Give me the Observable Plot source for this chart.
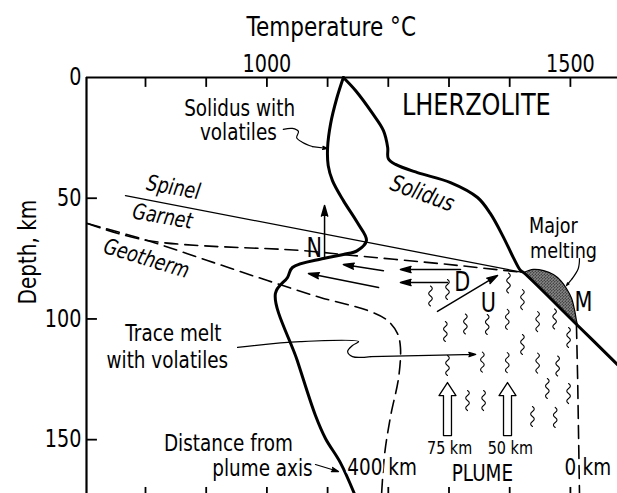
<!DOCTYPE html>
<html><head><meta charset="utf-8">
<script src="https://cdn.jsdelivr.net/npm/d3@7"></script>
<script src="https://cdn.jsdelivr.net/npm/@observablehq/plot@0.6"></script>
<style>
body{margin:0;background:#fff;}
#chart svg{display:block;}
</style></head><body><div id="chart"></div>
<script>
// ---- axes ----
const xDomain = [702.8, 1577.6];          // temperature, °C
const yDomain = [0, 172.3];               // depth, km
const xTicks = [800, 900, 1000, 1100, 1200, 1300, 1400, 1500];
const xLabelTicks = [1000, 1500];
const yLabelTicks = [0, 50, 100, 150];
const yInnerTicks = [50, 100, 150];

// ---- curves [T °C, depth km] ----
const solidusVolatiles = [[1126,0],[1115,8.7],[1105,19.1],[1100,29.0],[1101,36.5],[1108,42.7],[1126,51.0],[1149,60.1],[1164,67.5],[1149,71.7],[1126,73.3],[1093,75.0],[1042,78.7],[1034,82.8],[1014,89.5],[1050,117.2],[1080,140.0],[1096.5,149.5],[1121,159.5],[1144,172.3]];
const solidusDry = [[1126,0],[1146,5.4],[1174,14.9],[1192,22.0],[1199,29.0],[1200,33.6],[1212,36.0],[1248,39.4],[1302.5,43.5],[1347,49.7],[1368,56.3],[1390,66.3],[1406,74.6],[1418,80.0],[1423,80.8],[1512,102.7],[1577.6,118.9]];
const spinelGarnet = [[767,48.9],[1423,80.8]];
const geothermUpper = [[704.5,60.5],[803,67.5],[1058.6,71.7],[1141,73.7],[1286,77.1],[1347,78.7],[1423,80.8]];
const geotherm400 = [[704.5,60.5],[803,67.5],[902,75.8],[1001,84.1],[1088,91.1],[1166,96.5],[1199,100.7],[1215,106.0],[1220,111.8],[1217,124.3],[1204,140.0],[1194,155.8],[1189,172.3]];
const geotherm0 = [[1510,102.7],[1512,125.5],[1515,172.3]];
const majorMelting = [[1423,80.8],[1439,79.5],[1456,80.0],[1472,81.6],[1484,84.1],[1493.5,87.4],[1502,91.5],[1507,96.5],[1510,100.7],[1512,102.7]];

// ---- arrows [T1, D1, T2, D2] ----
const flowArrows = [[1095,75.0,1095,53.0],[1319,79.5,1220,79.5],[1297.5,84.9,1220,84.9],[1192,80.0,1126,77.5],[1184,87.0,1068.5,81.2],[1281,96.9,1380,82.0]];
const leaderVolatiles = [[1027,21.5],[1042,21.1],[1052,22.4],[1049,24.9],[1059,26.9],[1075,28.6]];
const leaderTrace = [[951.6,111.8],[1055,109.4],[1151,109.4],[1141,111.0],[1133,113.5],[1141,115.6],[1171,115.6]];
const leaderMelting = [[1515,75.0],[1513,79.1],[1503,83.3]];
const leaderHeads = [[1075,28.6,1100,29.4],[1171,115.6,1344,114.7],[1503,83.3,1493.5,86.2],[1080,160.3,1118,163.2]];

// ---- plume upwelling arrows (T, depth of base) ----
const plumeArrows = [[1297.5,148.3],[1396.4,148.3]];

// ---- trace-melt squiggles (T, depth) ----
const squiggles = [[1269.5,90.5],[1297.5,87.8],[1398,85.1],[1421,92.0],[1294,105.2],[1327,102.1],[1363,102.3],[1396,100.2],[1446,101.1],[1474,100.0],[1421,110.6],[1497,107.7],[1297.5,119.3],[1355,117.9],[1396,118.1],[1446,118.3],[1479,119.5],[1462,128.8],[1497,130.9],[1330.5,133.8],[1357,133.8],[1437.5,140.4],[1475,140.8]];

// ---- annotations ----
const annotations = [
  {id:"title", text:"Temperature °C", T:1106, D:-20.7},
  {id:"ylab", text:"Depth, km", T:605.6, D:72.3},
  {id:"lherz", text:"LHERZOLITE", T:1345, D:11.6},
  {id:"sv1", text:"Solidus with", T:955, D:12.8},
  {id:"sv2", text:"volatiles", T:953, D:22.8},
  {id:"spinel", text:"Spinel", T:846, D:45.6},
  {id:"garnet", text:"Garnet", T:828, D:57.6},
  {id:"geotherm", text:"Geotherm", T:801.6, D:75.0},
  {id:"solidus", text:"Solidus", T:1256, D:48.1},
  {id:"N", text:"N", T:1078, D:70.8},
  {id:"D", text:"D", T:1322, D:84.9},
  {id:"U", text:"U", T:1365, D:93.6},
  {id:"M", text:"M", T:1521.6, D:93.2},
  {id:"major", text:"Major", T:1472, D:61.3},
  {id:"melting", text:"melting", T:1488.6, D:71.7},
  {id:"tm1", text:"Trace melt", T:846, D:106.0},
  {id:"tm2", text:"with volatiles", T:836, D:117.2},
  {id:"dist1", text:"Distance from", T:936.7, D:151.6},
  {id:"dist2", text:"plume axis", T:992.7, D:162.0},
  {id:"d400", text:"400", T:1190.4, D:161.6},
  {id:"km400", text:"km", T:1200, D:161.6},
  {id:"d75", text:"75 km", T:1301, D:153.7},
  {id:"d50", text:"50 km", T:1401, D:153.7},
  {id:"plume", text:"PLUME", T:1355, D:164.0},
  {id:"d0", text:"0", T:1500, D:161.6},
  {id:"km0", text:"km", T:1520, D:161.6}
];
const ann = (...ids) => annotations.filter(a => ids.includes(a.id));

const FONT = "'DejaVu Sans',sans-serif";
const P = d => d[0], Q = d => d[1];
const fmt = d => String(d);

const squiggleShape = {
  draw(ctx, l) {
    const n = 4, h = l / n;
    ctx.moveTo(0, 0);
    for (let k = 0; k < n; k++) {
      const s = k % 2 ? 2.4 : -2.4;
      ctx.bezierCurveTo(s, -k*h - h*0.35, s, -k*h - h*0.65, 0, -(k+1)*h);
    }
  }
};
const blockArrow = {
  draw(ctx, l) {
    const hw = 4, ww = 8.5, hl = 13;
    ctx.moveTo(-hw, 0); ctx.lineTo(-hw, -(l-hl)); ctx.lineTo(-ww, -(l-hl));
    ctx.lineTo(0, -l); ctx.lineTo(ww, -(l-hl)); ctx.lineTo(hw, -(l-hl));
    ctx.lineTo(hw, 0); ctx.closePath();
  }
};

const T = {x: "T", y: "D", text: "text"};

const chart = Plot.plot({
  width: 617, height: 493,
  marginLeft: 86, marginRight: 0, marginTop: 77, marginBottom: 0,
  x: {domain: xDomain, axis: null},
  y: {domain: yDomain, reverse: true, axis: null},
  style: {fontFamily: FONT, background: "white", color: "black", overflow: "visible"},
  marks: [
    // frame & ticks
    Plot.ruleY([0], {stroke: "black", strokeWidth: 2.2}),
    Plot.ruleX([xDomain[0]], {stroke: "black", strokeWidth: 2.2}),
    Plot.ruleX(xTicks, {y1: 0, y2: 4.1, stroke: "black", strokeWidth: 1.8}),
    Plot.ruleX(xTicks, {y1: 169.8, y2: yDomain[1], stroke: "black", strokeWidth: 1.8}),
    Plot.ruleY(yInnerTicks, {x1: xDomain[0], x2: xDomain[0] + 18, stroke: "black", strokeWidth: 1.8}),
    Plot.axisX(xLabelTicks, {anchor: "top", tickSize: 0, tickPadding: 6, fontSize: 24, label: null, tickFormat: fmt, fontFamily: FONT}),
    Plot.axisY(yLabelTicks, {anchor: "left", tickSize: 0, tickPadding: 5, fontSize: 24, label: null, tickFormat: fmt, fontFamily: FONT}),

    // major melting lens
    Plot.line(majorMelting, {x: P, y: Q, fill: "url(#dots)", stroke: "black", strokeWidth: 1.2, curve: "catmull-rom"}),

    // curves
    Plot.line(spinelGarnet, {x: P, y: Q, stroke: "black", strokeWidth: 1.3}),
    Plot.line(geothermUpper, {x: P, y: Q, stroke: "black", strokeWidth: 1.6, strokeDasharray: "13,7", curve: "catmull-rom"}),
    Plot.line(geotherm400, {x: P, y: Q, stroke: "black", strokeWidth: 1.6, strokeDasharray: "13,7", curve: "catmull-rom"}),
    Plot.line(geotherm0, {x: P, y: Q, stroke: "black", strokeWidth: 1.6, strokeDasharray: "13,7"}),
    Plot.line(solidusVolatiles, {x: P, y: Q, stroke: "black", strokeWidth: 3, curve: "catmull-rom"}),
    Plot.line(solidusDry, {x: P, y: Q, stroke: "black", strokeWidth: 3, curve: "catmull-rom"}),

    // squiggles and plume arrows
    Plot.vector(squiggles, {x: P, y: Q, length: 20, rotate: 0, anchor: "middle", shape: squiggleShape, stroke: "black", strokeWidth: 1.1}),
    Plot.vector(plumeArrows, {x: P, y: Q, length: 53, rotate: 0, anchor: "start", shape: blockArrow, fill: "white", stroke: "black", strokeWidth: 1.3}),

    // arrows
    Plot.arrow(flowArrows, {x1: d => d[0], y1: d => d[1], x2: d => d[2], y2: d => d[3], stroke: "black", fill: "black", strokeWidth: 1.5, headLength: 11, headAngle: 32}),
    Plot.line(leaderVolatiles, {x: P, y: Q, stroke: "black", strokeWidth: 1.2, curve: "catmull-rom"}),
    Plot.line(leaderTrace, {x: P, y: Q, stroke: "black", strokeWidth: 1.2, curve: "catmull-rom"}),
    Plot.line(leaderMelting, {x: P, y: Q, stroke: "black", strokeWidth: 1.2, curve: "catmull-rom"}),
    Plot.arrow(leaderHeads, {x1: d => d[0], y1: d => d[1], x2: d => d[2], y2: d => d[3], stroke: "black", fill: "black", strokeWidth: 1.2, headLength: 9, headAngle: 35}),

    // text
    Plot.text(ann("title"), {...T, fontSize: 27}),
    Plot.text(ann("ylab"), {...T, fontSize: 25, rotate: -90}),
    Plot.text(ann("lherz"), {...T, fontSize: 30}),
    Plot.text(ann("sv1","sv2","tm1","tm2","dist1","dist2","plume"), {...T, fontSize: 23}),
    Plot.text(ann("major","melting"), {...T, fontSize: 22}),
    Plot.text(ann("spinel","garnet"), {...T, fontSize: 22, fontStyle: "italic", rotate: 10}),
    Plot.text(ann("geotherm"), {...T, fontSize: 22, fontStyle: "italic", rotate: 17}),
    Plot.text(ann("solidus"), {...T, fontSize: 23, fontStyle: "italic", rotate: 20}),
    Plot.text(ann("N","D","U","M"), {...T, fontSize: 26}),
    Plot.text(ann("d75","d50"), {...T, fontSize: 18}),
    Plot.text(ann("d400"), {...T, fontSize: 23, textAnchor: "end", stroke: "white", strokeWidth: 5, fill: "black", paintOrder: "stroke"}),
    Plot.text(ann("km400","km0"), {...T, fontSize: 23, textAnchor: "start"}),
    Plot.text(ann("d0"), {...T, fontSize: 23})
  ]
});

// stipple pattern for the major-melting region
const ns = "http://www.w3.org/2000/svg";
const defs = document.createElementNS(ns, "defs");
const pat = document.createElementNS(ns, "pattern");
pat.setAttribute("id", "dots"); pat.setAttribute("width", "3"); pat.setAttribute("height", "3");
pat.setAttribute("patternUnits", "userSpaceOnUse");
for (const [cx, cy] of [[0.75, 0.75], [2.25, 2.25]]) {
  const c = document.createElementNS(ns, "circle");
  c.setAttribute("cx", cx); c.setAttribute("cy", cy); c.setAttribute("r", "1"); c.setAttribute("fill", "black");
  pat.appendChild(c);
}
defs.appendChild(pat);
chart.insertBefore(defs, chart.firstChild);

// narrow lettering: compress every text along its baseline
for (const t of chart.querySelectorAll("text")) {
  let tr = t.getAttribute("transform");
  if (!tr) {
    const x = +t.getAttribute("x") || 0, y = +t.getAttribute("y") || 0;
    t.removeAttribute("x"); t.removeAttribute("y");
    tr = `translate(${x},${y})`;
  }
  t.setAttribute("transform", tr + " scale(0.8,1)");
}
document.getElementById("chart").appendChild(chart);
</script>
</body></html>
